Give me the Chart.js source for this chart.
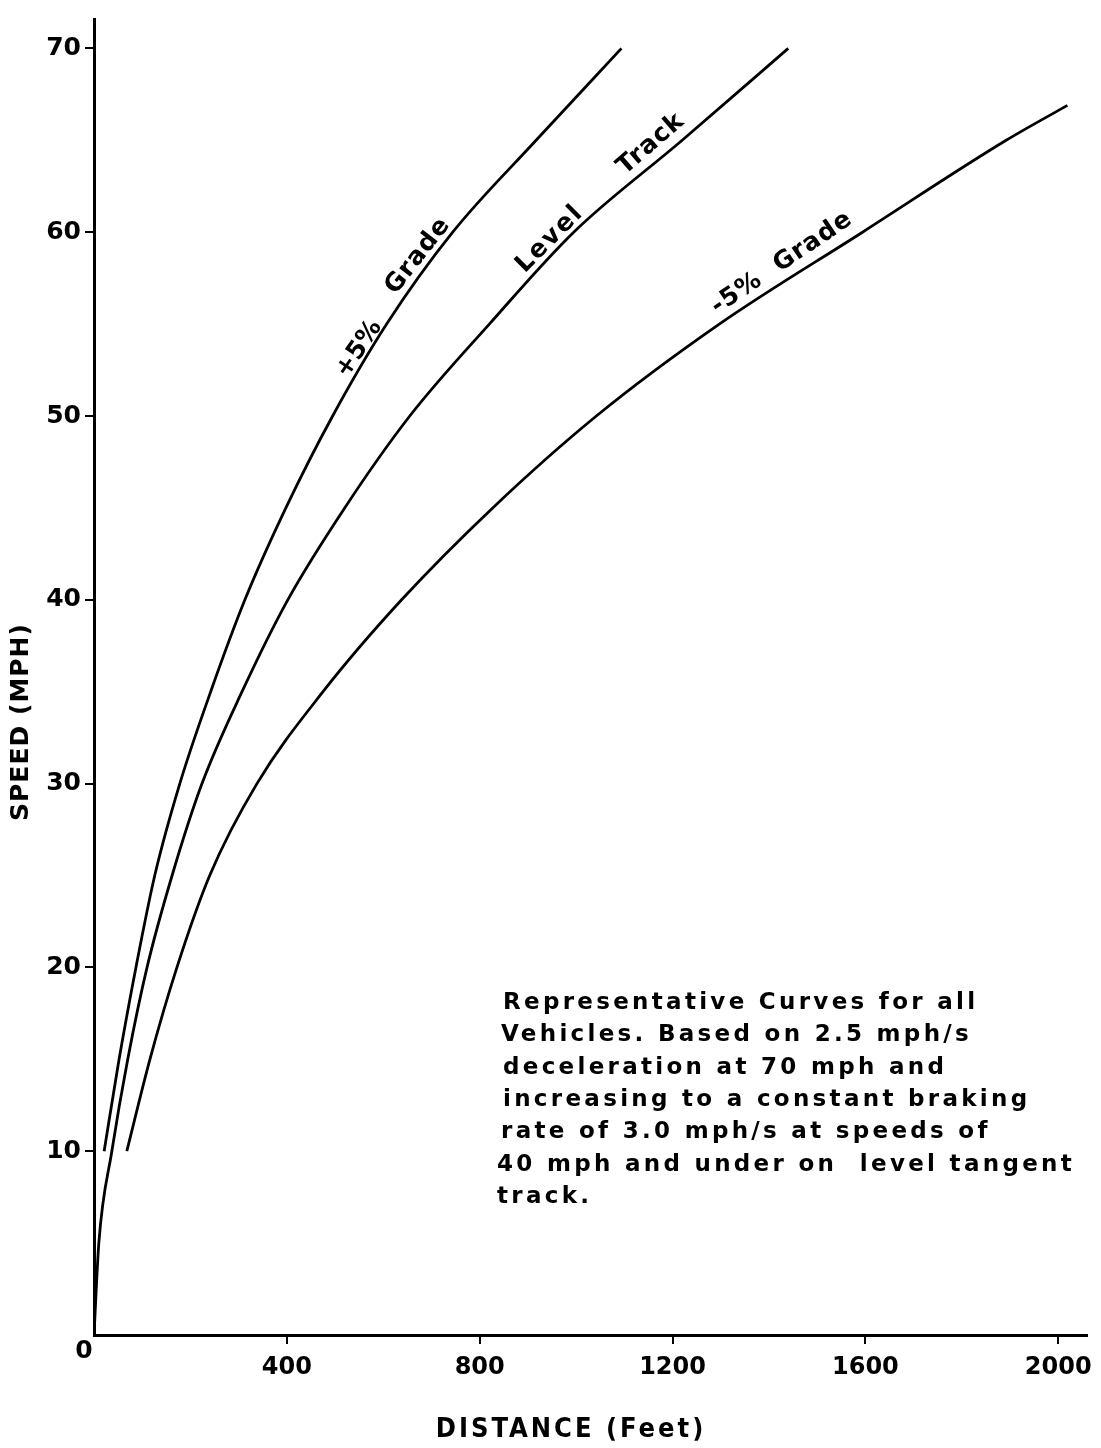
<!DOCTYPE html>
<html>
<head>
<meta charset="utf-8">
<script src="https://cdn.jsdelivr.net/npm/chart.js@4"></script>
<style>
  html, body { margin: 0; padding: 0; background: #fff; }
  canvas { display: block; }
</style>
</head>
<body>
<canvas id="brake-chart" width="1101" height="1448"></canvas>
<script>
// speeds (mph) and stopping distances (feet)
var speedPlus = [10, 15, 20, 25, 30, 35, 40, 45, 50, 55, 60, 65, 70];
var distPlus  = [21, 52, 87, 126, 178, 242, 313, 398, 495, 607, 744, 917, 1094];

var speedLevel = [0, 5, 10, 15, 20, 25, 30, 35, 40, 45, 50, 55, 60, 65, 70];
var distLevel  = [0, 10, 37, 70, 110, 162, 224, 307, 402, 520, 655, 820, 995, 1220, 1440];

var speedMinus = [10, 15, 20, 25, 30, 35, 40, 45, 50, 55, 60, 65, 66.9];
var distMinus  = [68, 116, 172, 240, 338, 475, 638, 827, 1042, 1297, 1594, 1892, 2019];

var xTicks = [400, 800, 1200, 1600, 2000];
var yTicks = [10, 20, 30, 40, 50, 60, 70];

var noteLines = [
  "Representative Curves for all",
  "Vehicles. Based on 2.5 mph/s",
  "deceleration at 70 mph and",
  "increasing to a constant braking",
  "rate of 3.0 mph/s at speeds of",
  "40 mph and under on  level tangent",
  "track."
];

function pts(xs, ys) {
  return xs.map(function(x, i) { return {x: x, y: ys[i]}; });
}

var curveStyle = {
  borderColor: '#000',
  borderWidth: 2.8,
  pointRadius: 0,
  fill: false,
  cubicInterpolationMode: 'monotone'
};

var condensed = '"DejaVu Sans Condensed", "DejaVu Sans", sans-serif';
var sans = '"DejaVu Sans", sans-serif';

// labels, titles and the note are painted on top of the chart
var textPlugin = {
  id: 'texts',
  afterDraw: function(chart) {
    var ctx = chart.ctx;
    ctx.save();
    ctx.fillStyle = '#000';

    function rotated(txt, x, y, deg, font, spacing) {
      ctx.save();
      ctx.translate(x, y);
      ctx.rotate(deg * Math.PI / 180);
      ctx.font = font;
      ctx.letterSpacing = spacing || '0px';
      ctx.textAlign = 'center';
      ctx.textBaseline = 'middle';
      ctx.fillText(txt, 0, 0);
      ctx.restore();
    }

    var lab = 'bold 25px ' + sans;
    rotated('+5%', 359, 349, -56, lab);
    rotated('Grade', 418, 256, -52, lab, '1px');
    rotated('Level', 550, 239, -45, lab, '2px');
    rotated('Track', 651, 144, -41, lab, '1px');
    rotated('-5%  Grade', 782, 263, -34, lab, '1px');

    rotated('SPEED (MPH)', 21, 722, -90, 'bold 25px ' + sans, '1px');

    ctx.font = 'bold 27px ' + condensed;
    ctx.letterSpacing = '3px';
    ctx.textAlign = 'center';
    ctx.textBaseline = 'middle';
    ctx.fillText('DISTANCE (Feet)', 571, 1430);

    ctx.letterSpacing = '0px';
    ctx.font = 'bold 25px ' + sans;
    ctx.fillText('0', 84, 1351);

    ctx.font = 'bold 23px ' + sans;
    ctx.textAlign = 'left';
    ctx.textBaseline = 'alphabetic';
    ctx.letterSpacing = '3.3px';
    var lx = [503, 501, 503, 503, 501, 497, 497];
    noteLines.forEach(function(line, i) {
      ctx.fillText(line, lx[i], 1009 + i * 32.3);
    });
    ctx.restore();
  }
};

new Chart(document.getElementById('brake-chart'), {
  type: 'line',
  data: {
    datasets: [
      Object.assign({label: '+5% Grade', data: pts(distPlus, speedPlus)}, curveStyle),
      Object.assign({label: 'Level Track', data: pts(distLevel, speedLevel)}, curveStyle),
      Object.assign({label: '-5% Grade', data: pts(distMinus, speedMinus)}, curveStyle)
    ]
  },
  options: {
    responsive: false,
    animation: false,
    layout: { padding: { left: 0, right: 13, top: 8, bottom: 0 } },
    plugins: {
      legend: { display: false },
      tooltip: { enabled: false }
    },
    scales: {
      x: {
        type: 'linear',
        min: 0,
        max: 2060,
        afterFit: function(s) { s.height = 113; },
        afterBuildTicks: function(s) { s.ticks = xTicks.map(function(v) { return {value: v}; }); },
        border: { display: true, color: '#000', width: 3 },
        grid: { drawOnChartArea: false, drawTicks: true, tickLength: 9, color: '#000', lineWidth: 2 },
        ticks: {
          color: '#000',
          padding: 9,
          maxRotation: 0,
          font: { family: sans, size: 24, weight: 'bold' },
          callback: function(v) { return String(v); }
        }
      },
      y: {
        min: 0,
        max: 71.6,
        afterFit: function(s) { s.width = 94; },
        afterBuildTicks: function(s) { s.ticks = yTicks.map(function(v) { return {value: v}; }); },
        border: { display: true, color: '#000', width: 3 },
        grid: { drawOnChartArea: false, drawTicks: true, tickLength: 9, color: '#000', lineWidth: 2 },
        ticks: {
          color: '#000',
          padding: 4,
          font: { family: sans, size: 25, weight: 'bold' }
        }
      }
    }
  },
  plugins: [textPlugin]
});
</script>
</body>
</html>
